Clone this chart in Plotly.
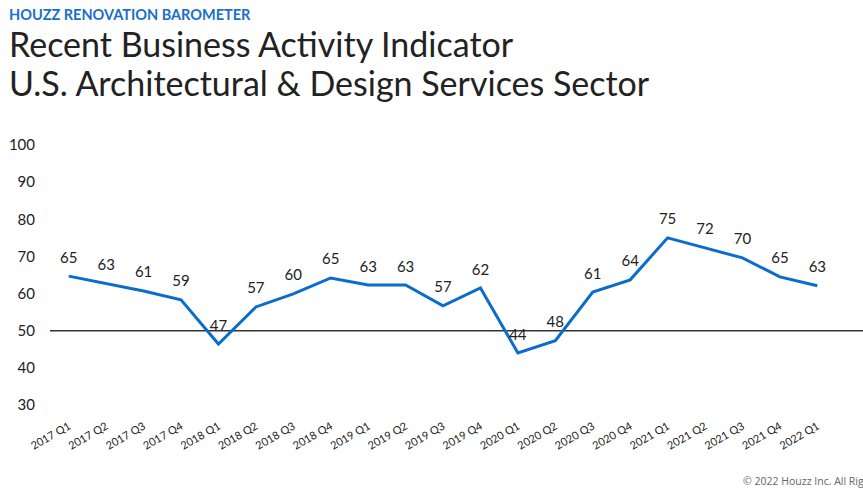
import plotly.graph_objects as go

quarters = ["2017 Q1", "2017 Q2", "2017 Q3", "2017 Q4", "2018 Q1", "2018 Q2", "2018 Q3", "2018 Q4",
            "2019 Q1", "2019 Q2", "2019 Q3", "2019 Q4", "2020 Q1", "2020 Q2", "2020 Q3", "2020 Q4",
            "2021 Q1", "2021 Q2", "2021 Q3", "2021 Q4", "2022 Q1"]
values = [64.7, 62.6, 60.7, 58.3, 46.4, 56.4, 59.9, 64.2, 62.3, 62.3, 56.7, 61.5, 44.0, 47.3, 60.4, 63.7,
          75.0, 72.3, 69.6, 64.5, 62.1]
labels = ["65", "63", "61", "59", "47", "57", "60", "65", "63", "63", "57", "62", "44", "48", "61", "64",
          "75", "72", "70", "65", "63"]
y_ticks = [30, 40, 50, 60, 70, 80, 90, 100]
baseline = 50

FONT = "Lato"

fig = go.Figure()
fig.add_trace(go.Scatter(
    x=list(range(len(quarters))), y=values, mode="lines+markers+text", text=labels,
    textposition="top center", textfont=dict(family=FONT, size=15, color="#222222"),
    marker=dict(size=14, color="rgba(0,0,0,0)"),
    line=dict(color="#0a6ccc", width=3), cliponaxis=False, hoverinfo="skip"))

fig.add_shape(type="line", xref="paper", x0=0, x1=1, yref="y", y0=baseline, y1=baseline,
              line=dict(color="#333333", width=1.5), layer="below")

fig.update_layout(
    width=863, height=491, margin=dict(l=50, r=0, t=145, b=86),
    paper_bgcolor="white", plot_bgcolor="white", showlegend=False,
    xaxis=dict(range=[-0.5, 21.22], tickmode="array", tickvals=list(range(len(quarters))),
               ticktext=quarters, tickangle=-30, showgrid=False, zeroline=False, showline=False,
               tickfont=dict(family=FONT, size=11, color="#222222"), ticks="",
               ticklabelstandoff=12),
    yaxis=dict(range=[30, 100], tickmode="array", tickvals=y_ticks, showgrid=False, zeroline=False,
               showline=False, tickfont=dict(family=FONT, size=15, color="#222222"), ticks="",
               ticklabelstandoff=14),
    annotations=[
        dict(text="<b>HOUZZ RENOVATION BAROMETER</b>", xref="paper", yref="paper", x=-43/813, y=1 + 131/260,
             xanchor="left", yanchor="middle", showarrow=False,
             font=dict(family=FONT, size=14.5, color="#1a6fc9")),
        dict(text="Recent Business Activity Indicator", xref="paper", yref="paper", x=-43/813, y=1 + 102/260,
             xanchor="left", yanchor="middle", showarrow=False,
             font=dict(family=FONT, size=34, color="#222222")),
        dict(text="U.S. Architectural & Design Services Sector", xref="paper", yref="paper", x=-43/813,
             y=1 + 62/260, xanchor="left", yanchor="middle", showarrow=False,
             font=dict(family=FONT, size=34, color="#222222")),
        dict(text="© 2022 Houzz Inc. All Rights Reserved", xref="paper", yref="paper", x=691/813,
             y=-76/260, xanchor="left", yanchor="middle", showarrow=False,
             font=dict(family="Open Sans", size=10.5, color="#666666")),
    ],
)

fig.write_html("out.html", config={"displayModeBar": False},
               post_script="document.body.style.margin='0';document.body.style.overflow='hidden';")
